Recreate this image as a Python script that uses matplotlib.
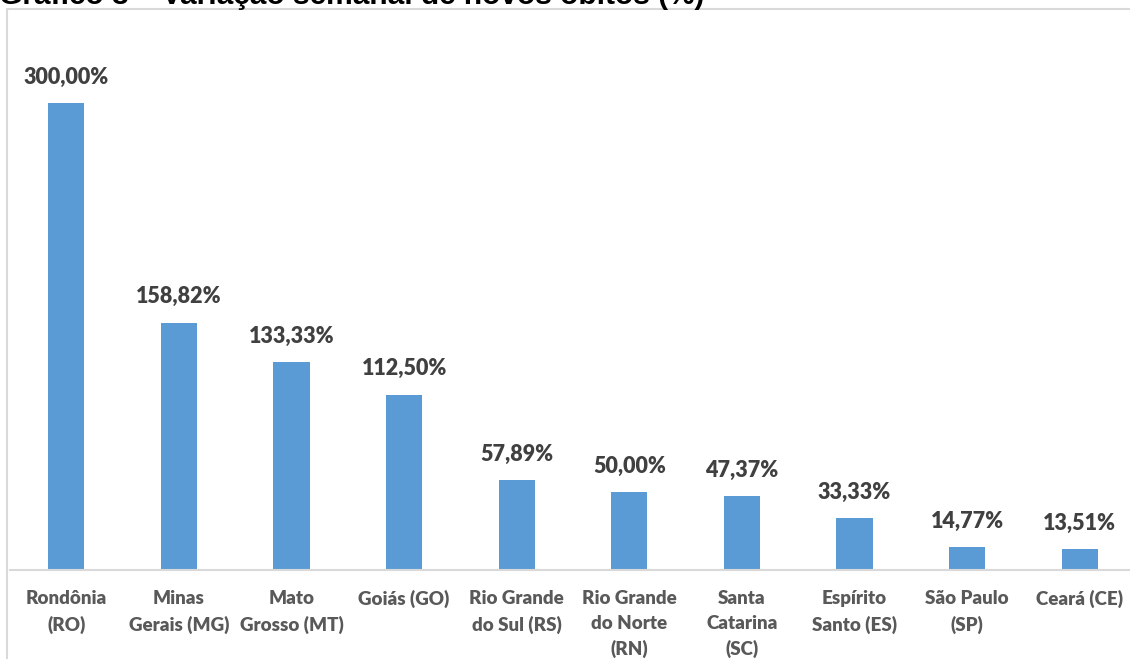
import matplotlib.pyplot as plt

# Dados do gráfico
estados = ['Rondônia\n(RO)', 'Minas\nGerais (MG)', 'Mato\nGrosso (MT)', 'Goiás (GO)',
           'Rio Grande\ndo Sul (RS)', 'Rio Grande\ndo Norte\n(RN)', 'Santa\nCatarina\n(SC)',
           'Espírito\nSanto (ES)', 'São Paulo\n(SP)', 'Ceará (CE)']
variacao = [300.00, 158.82, 133.33, 112.50, 57.89, 50.00, 47.37, 33.33, 14.77, 13.51]
rotulos = ['300,00%', '158,82%', '133,33%', '112,50%', '57,89%', '50,00%',
           '47,37%', '33,33%', '14,77%', '13,51%']

W, H = 1130, 659
fig = plt.figure(figsize=(W / 100, H / 100), dpi=100)

# moldura cinza do gráfico (cortada à direita e embaixo)
frame = plt.Rectangle((7 / W, -0.1), 1.2, 1 - 9 / H + 0.1, transform=fig.transFigure,
                      fill=False, edgecolor='#d9d9d9', lw=1.5)
fig.add_artist(frame)

fig.text(-0.001, 1 - 4 / H, 'Gráfico 3 – Variação semanal de novos óbitos (%)',
         family='Liberation Sans', weight='bold', fontsize=21.5, color='black', va='baseline')

# área do gráfico: eixo em y=570px, escala de 1.557 px por unidade
ax = fig.add_axes([10 / W, (H - 570) / H, 1126 / W, 560 / H])
x = range(len(variacao))
ax.bar(x, variacao, width=0.32, color='#5b9bd5')
ax.set_xlim(-0.5, len(variacao) - 0.5)
ax.set_ylim(0, 560 / 1.557)

for xi, v, r in zip(x, variacao, rotulos):
    ax.annotate(r, (xi, v), xytext=(0, 14), textcoords='offset points', ha='center',
                va='baseline', family='Lato', weight='heavy', fontsize=15.5, color='#404040')

ax.set_xticks(list(x))
ax.set_xticklabels(estados, family='Lato', weight='heavy', fontsize=13.5, color='#595959',
                   linespacing=1.55)
ax.tick_params(axis='x', length=0, pad=14.5)
ax.set_yticks([])
for s in ['top', 'right', 'left']:
    ax.spines[s].set_visible(False)
ax.spines['bottom'].set_color('#d9d9d9')
ax.spines['bottom'].set_linewidth(1.5)

plt.savefig('out.png', dpi=100)
